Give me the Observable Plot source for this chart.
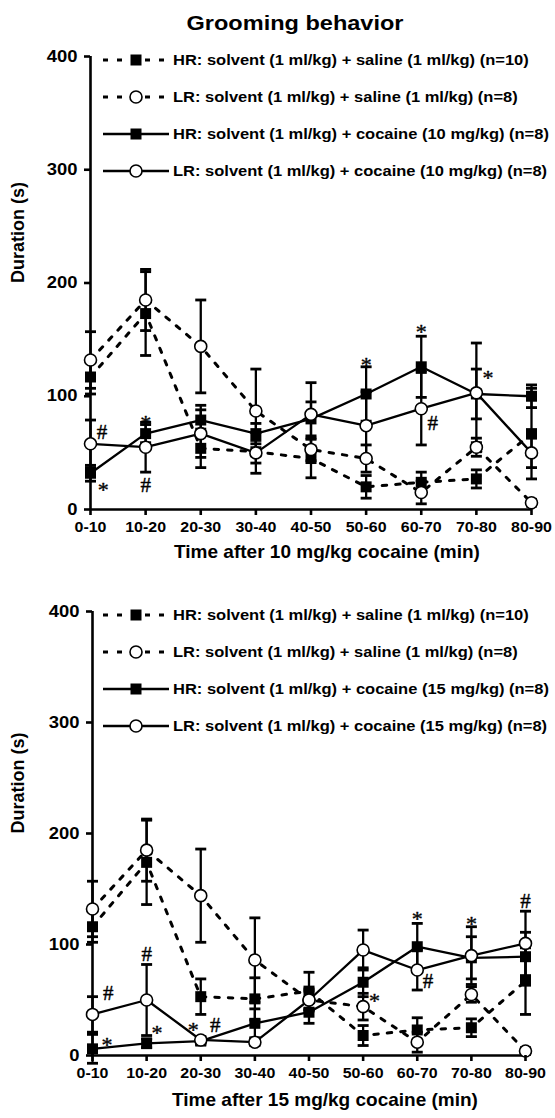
<!DOCTYPE html>
<html>
<head>
<meta charset="utf-8">
<script src="https://cdn.jsdelivr.net/npm/d3@7"></script>
<script src="https://cdn.jsdelivr.net/npm/@observablehq/plot@0.6"></script>
<style>
  html, body { margin: 0; padding: 0; background: #fff; }
  body { width: 555px; height: 1118px; overflow: hidden; font-family: "Liberation Sans", Arial, sans-serif; }
  svg { display: block; }
</style>
</head>
<body>
<div id="title"></div>
<div id="panel10"></div>
<div id="panel15"></div>
<script>
// ---------- shared categories / text ----------
const chartTitle = "Grooming behavior";
const timeBins = ["0-10", "10-20", "20-30", "30-40", "40-50", "50-60", "60-70", "70-80", "80-90"];
const yTicks = [0, 100, 200, 300, 400];
const yTitle = "Duration (s)";

// ---------- Panel 1: 10 mg/kg cocaine ----------
const xTitle10 = "Time after 10 mg/kg cocaine (min)";
const legend10 = [
  "HR: solvent (1 ml/kg) + saline (1 ml/kg) (n=10)",
  "LR: solvent (1 ml/kg) + saline (1 ml/kg) (n=8)",
  "HR: solvent (1 ml/kg) + cocaine (10 mg/kg) (n=8)",
  "LR: solvent (1 ml/kg) + cocaine (10 mg/kg) (n=8)"
];
const hrSaline10     = [117, 173, 54, 51, 45, 20, 24, 27, 67];
const hrSaline10Sem  = [15, 37, 17, 10, 17, 10, 9, 8, 40];
const lrSaline10     = [132, 185, 144, 87, 53, 45, 15, 55, 6];
const lrSaline10Sem  = [25, 27, 41, 37, 10, 12, 10, 8, 3];
const hrCocaine10    = [32, 67, 79, 67, 80, 102, 126, 102, 100];
const hrCocaine10Sem = [7, 8, 13, 9, 15, 24, 27, 22, 10];
const lrCocaine10    = [58, 55, 67, 50, 84, 74, 89, 103, 50];
const lrCocaine10Sem = [21, 22, 21, 18, 28, 30, 32, 44, 13];
// significance marks (slot position along the time axis, value, symbol)
const sig10Slot  = [0.21, 0.23, 1, 1, 5, 6, 6.21, 7.21];
const sig10Value = [68, 21, 80, 21, 132, 161, 76, 120];
const sig10Mark  = ["#", "*", "*", "#", "*", "*", "#", "*"];

// ---------- Panel 2: 15 mg/kg cocaine ----------
const xTitle15 = "Time after 15 mg/kg cocaine (min)";
const legend15 = [
  "HR: solvent (1 ml/kg) + saline (1 ml/kg) (n=10)",
  "LR: solvent (1 ml/kg) + saline (1 ml/kg) (n=8)",
  "HR: solvent (1 ml/kg) + cocaine (15 mg/kg) (n=8)",
  "LR: solvent (1 ml/kg) + cocaine (15 mg/kg) (n=8)"
];
const hrSaline15     = [116, 174, 53, 51, 58, 18, 23, 25, 67];
const hrSaline15Sem  = [14, 38, 16, 19, 17, 9, 11, 8, 30];
const lrSaline15     = [132, 185, 144, 86, 50, 44, 12, 55, 4];
const lrSaline15Sem  = [25, 28, 42, 38, 10, 12, 9, 7, 3];
const hrCocaine15    = [6, 11, 13, 29, 39, 66, 98, 88, 89];
const hrCocaine15Sem = [13, 4, 3, 13, 10, 13, 21, 19, 22];
const lrCocaine15    = [37, 50, 14, 12, 50, 95, 77, 90, 101];
const lrCocaine15Sem = [16, 32, 3, 3, 8, 18, 18, 26, 29];
const sig15Slot  = [0.29, 0.27, 1, 1.19, 1.86, 2.27, 5.21, 6, 6.2, 7, 8];
const sig15Value = [56, 14, 91, 24.5, 27, 27, 53, 127, 67, 123, 139];
const sig15Mark  = ["#", "*", "#", "*", "*", "#", "*", "*", "#", "*", "#"];

// ---------- styling ----------
const seriesStyle = [
  {dashed: true,  symbol: "square"},
  {dashed: true,  symbol: "circle"},
  {dashed: false, symbol: "square"},
  {dashed: false, symbol: "circle"}
];
const capSymbol = {draw(ctx) { ctx.moveTo(-5.5, 0); ctx.lineTo(5.5, 0); }};
const serifFont = "Liberation Serif, Times New Roman, serif";

function stretch(nodes, k) {
  nodes.forEach(t => {
    const L = t.getComputedTextLength();
    if (L > 0) {
      t.setAttribute("textLength", (L * k).toFixed(2));
      t.setAttribute("lengthAdjust", "spacingAndGlyphs");
    }
  });
}

// title
(function () {
  const svg = d3.select("#title").append("svg").attr("width", 555).attr("height", 38);
  const t = svg.append("text").attr("x", 295).attr("y", 30).attr("text-anchor", "middle")
    .attr("font-family", "Liberation Sans, Arial, sans-serif").attr("font-weight", "bold")
    .attr("font-size", 21).attr("fill", "#000").text(chartTitle);
  stretch([t.node()], 1.12);
})();

function makePanel(p) {
  const series = p.values.map((vals, k) => vals.map((v, i) => ({i, v, e: p.sems[k][i], k})));
  const all = series.flat();
  const caps = all.flatMap(d => [{i: d.i, y: d.v - d.e}, {i: d.i, y: d.v + d.e}]);
  const sig = p.sigSlot.map((x, j) => ({x, y: p.sigValue[j], s: p.sigMark[j]}));
  const marks = [];
  series.forEach((rows, k) => {
    const st = seriesStyle[k];
    marks.push(Plot.line(rows, Object.assign(
      {x: "i", y: "v", stroke: "#000", strokeWidth: st.dashed ? 3 : 2.3},
      st.dashed ? {strokeDasharray: "4.5,9"} : {}
    )));
  });
  marks.push(Plot.ruleX(all, {x: "i", y1: d => d.v - d.e, y2: d => d.v + d.e, stroke: "#000", strokeWidth: 2.3}));
  marks.push(Plot.dot(caps, {x: "i", y: "y", symbol: capSymbol, r: 1, stroke: "#000", strokeWidth: 2.8, fill: "none"}));
  marks.push(Plot.ruleX([0], {stroke: "#000", strokeWidth: 2.6}));
  marks.push(Plot.ruleY([0], {stroke: "#000", strokeWidth: 2.6}));
  series.forEach((rows, k) => {
    if (seriesStyle[k].symbol === "square")
      marks.push(Plot.dot(rows, {x: "i", y: "v", symbol: "square", r: 6.2, fill: "#000", stroke: "none"}));
  });
  series.forEach((rows, k) => {
    if (seriesStyle[k].symbol === "circle")
      marks.push(Plot.dot(rows, {x: "i", y: "v", r: 6, fill: "#fff", stroke: "#000", strokeWidth: 1.6}));
  });
  marks.push(Plot.text(sig.filter(d => d.s === "#"), {x: "x", y: "y", text: "s", fontFamily: serifFont, fontSize: 21, fill: "#000", stroke: "#000", strokeWidth: 0.4}));
  marks.push(Plot.text(sig.filter(d => d.s === "*"), {x: "x", y: "y", text: "s", dy: 4.5, fontFamily: serifFont, fontSize: 22, fill: "#000", stroke: "#000", strokeWidth: 0.4}));
  marks.push(Plot.axisY({ticks: yTicks, tickSize: 6, tickPadding: 7, fontSize: 16, fontWeight: "bold", strokeWidth: 2.6, label: null, tickFormat: d => String(d)}));
  marks.push(Plot.axisX({ticks: d3.range(timeBins.length), tickFormat: i => timeBins[i], tickSize: 6, tickPadding: 6.5, fontSize: 14.5, fontWeight: "bold", strokeWidth: 2.6, label: null}));
  marks.push(Plot.text([p.xTitle], {frameAnchor: "bottom", dx: 16, dy: p.xTitleDy, fontSize: 19, fontWeight: "bold", fill: "#000", ariaLabel: "x-title"}));
  marks.push(Plot.text([yTitle], {frameAnchor: "left", rotate: -90, dx: -(p.ml - 18), fontSize: 18, fontWeight: "bold", fill: "#000", ariaLabel: "y-title"}));

  const chart = Plot.plot({
    width: 555, height: p.height,
    marginLeft: p.ml, marginRight: p.mr, marginTop: p.mt, marginBottom: p.mb,
    x: {domain: [0, timeBins.length - 1]},
    y: {domain: [0, 400]},
    style: {fontFamily: "Liberation Sans, Arial, sans-serif", color: "#000", background: "#fff", overflow: "visible"},
    marks
  });
  document.getElementById(p.id).append(chart);

  // legend inside the frame
  const ys = chart.scale("y");
  const g = d3.select(chart).append("g").attr("aria-label", "legend")
    .attr("text-anchor", "start").attr("font-family", "Liberation Sans, Arial, sans-serif");
  const texts = [];
  p.legend.forEach((label, k) => {
    const st = seriesStyle[k];
    const y = ys.apply(400) + 4 + 37 * k;
    g.append("line").attr("x1", 103).attr("x2", 169).attr("y1", y).attr("y2", y)
      .attr("stroke", "#000").attr("stroke-width", st.dashed ? 3 : 2.3)
      .attr("stroke-dasharray", st.dashed ? "5,9" : null);
    if (st.symbol === "square") {
      g.append("rect").attr("x", 136 - 5.5).attr("y", y - 5.5).attr("width", 11).attr("height", 11).attr("fill", "#000");
    } else {
      g.append("circle").attr("cx", 136).attr("cy", y).attr("r", 6).attr("fill", "#fff").attr("stroke", "#000").attr("stroke-width", 1.6);
    }
    const t = g.append("text").attr("x", 173).attr("y", y).attr("dy", "0.35em").attr("text-anchor", "start")
      .attr("font-size", 15).attr("font-weight", "bold").attr("fill", "#000").text(label);
    texts.push(t.node());
  });
  stretch(texts, 1.1);
  stretch(Array.from(chart.querySelectorAll('g[aria-label="x-axis tick label"] text')), 1.1);
  stretch(Array.from(chart.querySelectorAll('g[aria-label="y-axis tick label"] text')), 1.15);
  stretch(Array.from(chart.querySelectorAll('g[aria-label="x-title"] text')), 1.12);
  return chart;
}

makePanel({
  id: "panel10", height: 537, ml: 90, mr: 24, mt: 18, mb: 66, xTitleDy: 48,
  values: [hrSaline10, lrSaline10, hrCocaine10, lrCocaine10],
  sems: [hrSaline10Sem, lrSaline10Sem, hrCocaine10Sem, lrCocaine10Sem],
  sigSlot: sig10Slot, sigValue: sig10Value, sigMark: sig10Mark,
  legend: legend10, xTitle: xTitle10
});
makePanel({
  id: "panel15", height: 543, ml: 92, mr: 30, mt: 36, mb: 63, xTitleDy: 50,
  values: [hrSaline15, lrSaline15, hrCocaine15, lrCocaine15],
  sems: [hrSaline15Sem, lrSaline15Sem, hrCocaine15Sem, lrCocaine15Sem],
  sigSlot: sig15Slot, sigValue: sig15Value, sigMark: sig15Mark,
  legend: legend15, xTitle: xTitle15
});
</script>
</body>
</html>
